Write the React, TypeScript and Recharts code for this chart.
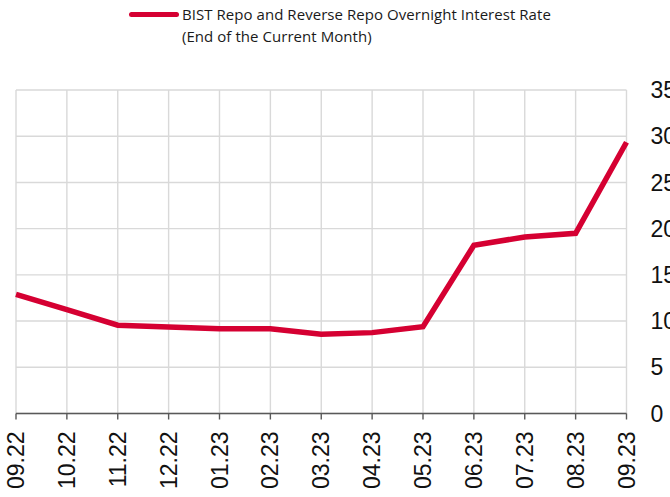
import { LineChart, Line, XAxis, YAxis, CartesianGrid } from 'recharts';

const months = ['09.22', '10.22', '11.22', '12.22', '01.23', '02.23', '03.23', '04.23', '05.23', '06.23', '07.23', '08.23', '09.23'];
const repoRate = [12.9, 11.25, 9.55, 9.35, 9.18, 9.18, 8.57, 8.75, 9.4, 18.2, 19.1, 19.5, 29.35];
const yTicks = [0, 5, 10, 15, 20, 25, 30, 35];

const data = months.map((m, i) => ({ month: m, rate: repoRate[i] }));

const RED = '#d50032';

function MonthTick(props: any) {
  const { x, y, payload } = props;
  const ty = y + 10;
  return (
    <text
      x={x}
      y={ty}
      transform={`rotate(-90, ${x}, ${ty})`}
      textAnchor="end"
      dominantBaseline="central"
      fontSize={23}
      fontFamily="'Liberation Sans', Arial, sans-serif"
      fill="#111"
    >
      {payload.value}
    </text>
  );
}

export default function App() {
  return (
    <div style={{ position: 'absolute', left: 0, top: 0, width: 670, height: 497, background: '#fff', overflow: 'hidden' }}>
      <div style={{ position: 'absolute', left: 129, top: 12, width: 50, height: 5, borderRadius: 3, background: RED }} />
      <div
        style={{
          position: 'absolute',
          left: 182,
          top: 3,
          fontFamily: "'Open Sans', sans-serif",
          fontSize: 15,
          lineHeight: '22px',
          color: '#1a1a1a',
          letterSpacing: 0.05,
          whiteSpace: 'nowrap',
        }}
      >
        BIST Repo and Reverse Repo Overnight Interest Rate
        <br />
        (End of the Current Month)
      </div>
      <LineChart width={670} height={497} data={data} margin={{ top: 90, right: 0, left: 16, bottom: 0 }}>
        <CartesianGrid stroke="#d9d9d9" strokeWidth={1.4} />
        <XAxis
          dataKey="month"
          height={83.5}
          interval={0}
          stroke="#595959"
          strokeWidth={1.4}
          tickSize={6}
          tickMargin={2}
          tick={<MonthTick />}
        />
        <YAxis
          orientation="right"
          width={43.5}
          domain={[0, 35]}
          ticks={yTicks}
          axisLine={false}
          tickLine={false}
          tickSize={0}
          tickMargin={24}
          tick={{ fill: '#111', fontSize: 23, fontFamily: "'Liberation Sans', Arial, sans-serif", textAnchor: 'start' }}
        />
        <Line
          type="linear"
          dataKey="rate"
          stroke={RED}
          strokeWidth={5.5}
          dot={false}
          isAnimationActive={false}
        />
      </LineChart>
    </div>
  );
}
